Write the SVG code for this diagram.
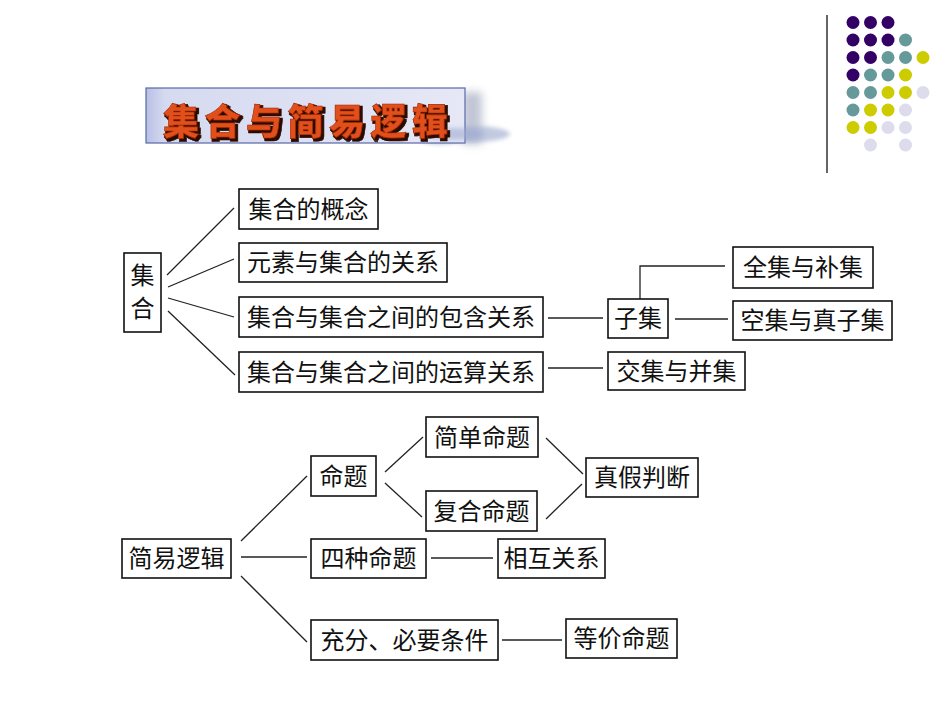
<svg xmlns="http://www.w3.org/2000/svg" width="950" height="713" viewBox="0 0 950 713">
<defs>
<style>
.box{fill:#fff;stroke:#111;stroke-width:1.6}
.t{font-family:"Noto Sans CJK SC","Noto Sans CJK JP",sans-serif;font-size:24px;fill:#111;text-anchor:middle}
.ln{stroke:#222;stroke-width:1.3;fill:none}
.p{fill:#330066}.g{fill:#669999}.y{fill:#cccc00}.l{fill:#dcdcec}
.title{font-family:"Noto Sans CJK SC","Noto Sans CJK JP",sans-serif;font-size:36px;font-weight:900;letter-spacing:5.5px}
</style>
<linearGradient id="bg" x1="0" y1="0" x2="1" y2="0">
<stop offset="0" stop-color="#b8c0e4"/>
<stop offset="0.06" stop-color="#d6daf0"/>
<stop offset="1" stop-color="#e6e8f6"/>
</linearGradient>
<filter id="blur" x="-50%" y="-50%" width="200%" height="200%"><feGaussianBlur stdDeviation="4"/></filter>
<filter id="blur2" x="-50%" y="-50%" width="200%" height="200%"><feGaussianBlur stdDeviation="2"/></filter>
<filter id="tshadow" x="-10%" y="-30%" width="120%" height="160%">
<feMorphology in="SourceAlpha" operator="dilate" radius="1" result="d"/>
<feOffset in="d" dx="2" dy="2" result="o"/>
<feFlood flood-color="#2a0800"/>
<feComposite in2="o" operator="in" result="s"/>
<feMerge><feMergeNode in="s"/><feMergeNode in="SourceGraphic"/></feMerge>
</filter>
</defs>
<rect width="950" height="713" fill="#fff"/>

<g id="decoration">
<line x1="827" y1="15" x2="827" y2="173" stroke="#333" stroke-width="1.5"/>
<circle class="p" cx="853" cy="22.5" r="6.5"/><circle class="p" cx="870.5" cy="22.5" r="6.5"/><circle class="p" cx="888" cy="22.5" r="6.5"/>
<circle class="p" cx="853" cy="40" r="6.5"/><circle class="p" cx="870.5" cy="40" r="6.5"/><circle class="p" cx="888" cy="40" r="6.5"/><circle class="g" cx="905.5" cy="40" r="6.5"/>
<circle class="p" cx="853" cy="57.5" r="6.5"/><circle class="p" cx="870.5" cy="57.5" r="6.5"/><circle class="g" cx="888" cy="57.5" r="6.5"/><circle class="g" cx="905.5" cy="57.5" r="6.5"/><circle class="y" cx="923" cy="57.5" r="6.5"/>
<circle class="p" cx="853" cy="75" r="6.5"/><circle class="g" cx="870.5" cy="75" r="6.5"/><circle class="g" cx="888" cy="75" r="6.5"/><circle class="y" cx="905.5" cy="75" r="6.5"/>
<circle class="g" cx="853" cy="92.5" r="6.5"/><circle class="g" cx="870.5" cy="92.5" r="6.5"/><circle class="y" cx="888" cy="92.5" r="6.5"/><circle class="y" cx="905.5" cy="92.5" r="6.5"/><circle class="l" cx="923" cy="92.5" r="6.5"/>
<circle class="g" cx="853" cy="110" r="6.5"/><circle class="y" cx="870.5" cy="110" r="6.5"/><circle class="y" cx="888" cy="110" r="6.5"/><circle class="l" cx="905.5" cy="110" r="6.5"/>
<circle class="y" cx="853" cy="127.5" r="6.5"/><circle class="y" cx="870.5" cy="127.5" r="6.5"/><circle class="l" cx="888" cy="127.5" r="6.5"/><circle class="l" cx="905.5" cy="127.5" r="6.5"/>
<circle class="l" cx="870.5" cy="145" r="6.5"/><circle class="l" cx="905.5" cy="145" r="6.5"/>
</g>

<g id="title">
<rect x="462" y="92" width="20" height="52" fill="#9aa0b8" opacity="0.6" filter="url(#blur)"/>
<ellipse cx="470" cy="134" rx="40" ry="8" fill="#a8b4d4" opacity="0.7" filter="url(#blur2)"/>
<ellipse cx="440" cy="138" rx="22" ry="6" fill="#8090b8" opacity="0.6" filter="url(#blur2)"/>
<rect x="146" y="88" width="319" height="55" fill="url(#bg)" stroke="#5868a8" stroke-width="1.2"/>
<ellipse cx="455" cy="134" rx="28" ry="6" fill="#a0acd0" opacity="0.6" filter="url(#blur2)"/>
<text class="title" x="163" y="135" fill="#e0501a" stroke="#a02800" stroke-width="0.6" filter="url(#tshadow)">集合与简易逻辑</text>
</g>

<g id="connectors">
<line class="ln" x1="167" y1="275" x2="234" y2="208"/>
<line class="ln" x1="168" y1="287" x2="234" y2="259"/>
<line class="ln" x1="168" y1="298" x2="234" y2="317"/>
<line class="ln" x1="168" y1="311" x2="235" y2="375"/>
<line class="ln" x1="548" y1="318" x2="603" y2="318"/>
<line class="ln" x1="548" y1="368" x2="603" y2="368"/>
<line class="ln" x1="675" y1="319" x2="728" y2="319"/>
<polyline class="ln" points="640,299 640,266 725,266"/>
<line class="ln" x1="241" y1="541" x2="307" y2="476"/>
<line class="ln" x1="241" y1="557" x2="307" y2="557"/>
<line class="ln" x1="241" y1="576" x2="307" y2="642"/>
<line class="ln" x1="385" y1="472" x2="423" y2="437"/>
<line class="ln" x1="385" y1="483" x2="422" y2="517"/>
<line class="ln" x1="546" y1="438" x2="583" y2="474"/>
<line class="ln" x1="546" y1="519" x2="582" y2="484"/>
<line class="ln" x1="431" y1="558" x2="493" y2="558"/>
<line class="ln" x1="502" y1="640" x2="562" y2="640"/>
</g>

<g id="n-jihe"><rect class="box" x="124" y="253" width="37" height="79"/><text class="t" x="142.5" y="284">集</text><text class="t" x="142.5" y="317">合</text></g>
<g id="n-gainian"><rect class="box" x="239" y="189" width="139" height="40"/><text class="t" x="308.5" y="218">集合的概念</text></g>
<g id="n-yuansu"><rect class="box" x="239" y="243" width="208" height="39"/><text class="t" x="343" y="271">元素与集合的关系</text></g>
<g id="n-baohan"><rect class="box" x="239" y="297" width="304" height="40"/><text class="t" x="391" y="326">集合与集合之间的包含关系</text></g>
<g id="n-yunsuan"><rect class="box" x="239" y="352" width="304" height="40"/><text class="t" x="391" y="381">集合与集合之间的运算关系</text></g>
<g id="n-ziji"><rect class="box" x="608" y="299" width="60" height="39"/><text class="t" x="638" y="327">子集</text></g>
<g id="n-quanji"><rect class="box" x="733" y="247" width="140" height="41"/><text class="t" x="803" y="276">全集与补集</text></g>
<g id="n-kongji"><rect class="box" x="733" y="301" width="159" height="39"/><text class="t" x="812.5" y="329">空集与真子集</text></g>
<g id="n-jiaoji"><rect class="box" x="608" y="352" width="137" height="38"/><text class="t" x="676.5" y="380">交集与并集</text></g>
<g id="n-jianyi"><rect class="box" x="122" y="539" width="109" height="39"/><text class="t" x="176.5" y="567">简易逻辑</text></g>
<g id="n-mingti"><rect class="box" x="311" y="456" width="65" height="40"/><text class="t" x="343.5" y="485">命题</text></g>
<g id="n-jiandan"><rect class="box" x="426" y="417" width="112" height="40"/><text class="t" x="482" y="446">简单命题</text></g>
<g id="n-fuhe"><rect class="box" x="426" y="491" width="111" height="40"/><text class="t" x="481.5" y="520">复合命题</text></g>
<g id="n-zhenjia"><rect class="box" x="586" y="458" width="112" height="39"/><text class="t" x="642" y="486">真假判断</text></g>
<g id="n-sizhong"><rect class="box" x="311" y="539" width="115" height="39"/><text class="t" x="368.5" y="567">四种命题</text></g>
<g id="n-xianghu"><rect class="box" x="498" y="539" width="107" height="39"/><text class="t" x="551.5" y="567">相互关系</text></g>
<g id="n-chongfen"><rect class="box" x="311" y="620" width="187" height="40"/><text class="t" x="404.5" y="649">充分、必要条件</text></g>
<g id="n-dengjia"><rect class="box" x="566" y="619" width="111" height="39"/><text class="t" x="621.5" y="647">等价命题</text></g>
</svg>
